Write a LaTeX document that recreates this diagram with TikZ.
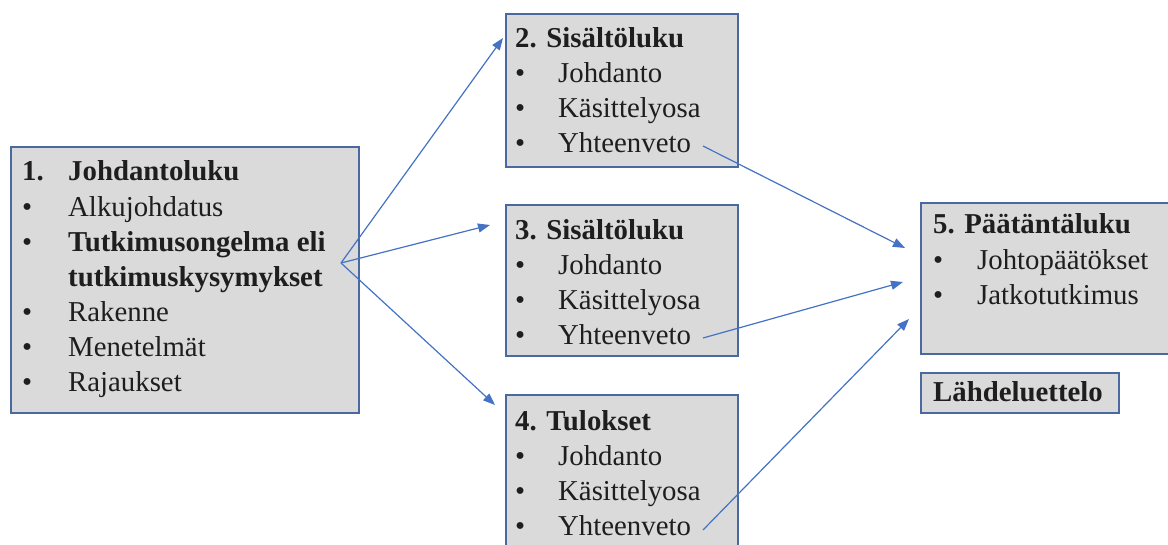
\documentclass[tikz,border=0pt]{standalone}
\usepackage{fontspec}
\setmainfont{Liberation Serif}
\usetikzlibrary{arrows.meta}
\definecolor{boxfill}{HTML}{DADADA}
\definecolor{boxline}{HTML}{4A69A0}
\definecolor{arrowc}{HTML}{4472C4}
\definecolor{txt}{HTML}{1E1E1E}
\tikzset{
  box/.style={draw=boxline, fill=boxfill, line width=1.4pt},
  txtl/.style={anchor=base west, inner sep=0pt, text=txt, font=\fontsize{28.8}{34}\selectfont},
  ttl/.style={txtl, font=\fontsize{28.8}{34}\selectfont\bfseries},
  conn/.style={draw=arrowc, line width=1.2pt, -{Triangle[length=12pt,width=9pt]}}
}
\begin{document}
\begin{tikzpicture}[x=1pt,y=-1pt]
\useasboundingbox (0,0) rectangle (1168,544);
\clip (0,0) rectangle (1168,544);
% boxes
\draw[box] (11,147) rectangle (359,413);
\draw[box] (506,14) rectangle (738,167);
\draw[box] (506,205) rectangle (738,356);
\draw[box] (506,395) rectangle (738,560);
\draw[box] (921,203) rectangle (1185,354);
\draw[box] (921,373) rectangle (1119,413);
% box 1
\node[ttl] (b1n) at (22,180) {1.};
\node[ttl] (b1t) at (68,180) {Johdantoluku};
\node[txtl] (b1b1) at (22,216) {•};
\node[txtl] (b1i1) at (68,216) {Alkujohdatus};
\node[txtl] (b1b2) at (22,251) {•};
\node[ttl] (b1i2) at (68,251) {Tutkimusongelma eli};
\node[ttl] (b1i2b) at (68,286) {tutkimuskysymykset};
\node[txtl] (b1b3) at (22,321) {•};
\node[txtl] (b1i3) at (68,321) {Rakenne};
\node[txtl] (b1b4) at (22,356) {•};
\node[txtl] (b1i4) at (68,356) {Menetelmät};
\node[txtl] (b1b5) at (22,391) {•};
\node[txtl] (b1i5) at (68,391) {Rajaukset};
% box 2
\node[ttl] (b2t) at (515,47) {2. Sisältöluku};
\node[txtl] (b2b1) at (515,82) {•};
\node[txtl] (b2i1) at (558,82) {Johdanto};
\node[txtl] (b2b2) at (515,117) {•};
\node[txtl] (b2i2) at (558,117) {Käsittelyosa};
\node[txtl] (b2b3) at (515,152) {•};
\node[txtl] (b2i3) at (558,152) {Yhteenveto};
% box 3
\node[ttl] (b3t) at (515,239) {3. Sisältöluku};
\node[txtl] (b3b1) at (515,274) {•};
\node[txtl] (b3i1) at (558,274) {Johdanto};
\node[txtl] (b3b2) at (515,309) {•};
\node[txtl] (b3i2) at (558,309) {Käsittelyosa};
\node[txtl] (b3b3) at (515,344) {•};
\node[txtl] (b3i3) at (558,344) {Yhteenveto};
% box 4
\node[ttl] (b4t) at (515,430) {4. Tulokset};
\node[txtl] (b4b1) at (515,465) {•};
\node[txtl] (b4i1) at (558,465) {Johdanto};
\node[txtl] (b4b2) at (515,500) {•};
\node[txtl] (b4i2) at (558,500) {Käsittelyosa};
\node[txtl] (b4b3) at (515,535) {•};
\node[txtl] (b4i3) at (558,535) {Yhteenveto};
% box 5
\node[ttl] (b5t) at (933,233) {5. Päätäntäluku};
\node[txtl] (b5b1) at (933,269) {•};
\node[txtl] (b5i1) at (977,269) {Johtopäätökset};
\node[txtl] (b5b2) at (933,304) {•};
\node[txtl] (b5i2) at (977,304) {Jatkotutkimus};
\node[ttl] (lahde) at (933,401) {Lähdeluettelo};
% connector coordinates
\coordinate (hub) at (341,263);
\coordinate (t2) at (503,38);
\coordinate (t3) at (490,225);
\coordinate (t4) at (495,405);
\coordinate (s2) at (703,146);
\coordinate (s3) at (703,338);
\coordinate (s4) at (703,530);
\coordinate (e1) at (905,248);
\coordinate (e2) at (903,282);
\coordinate (e3) at (909,319);
\draw[conn] (hub) -- (t2);
\draw[conn] (hub) -- (t3);
\draw[conn] (hub) -- (t4);
\draw[conn] (s2) -- (e1);
\draw[conn] (s3) -- (e2);
\draw[conn] (s4) -- (e3);
\end{tikzpicture}
\end{document}
